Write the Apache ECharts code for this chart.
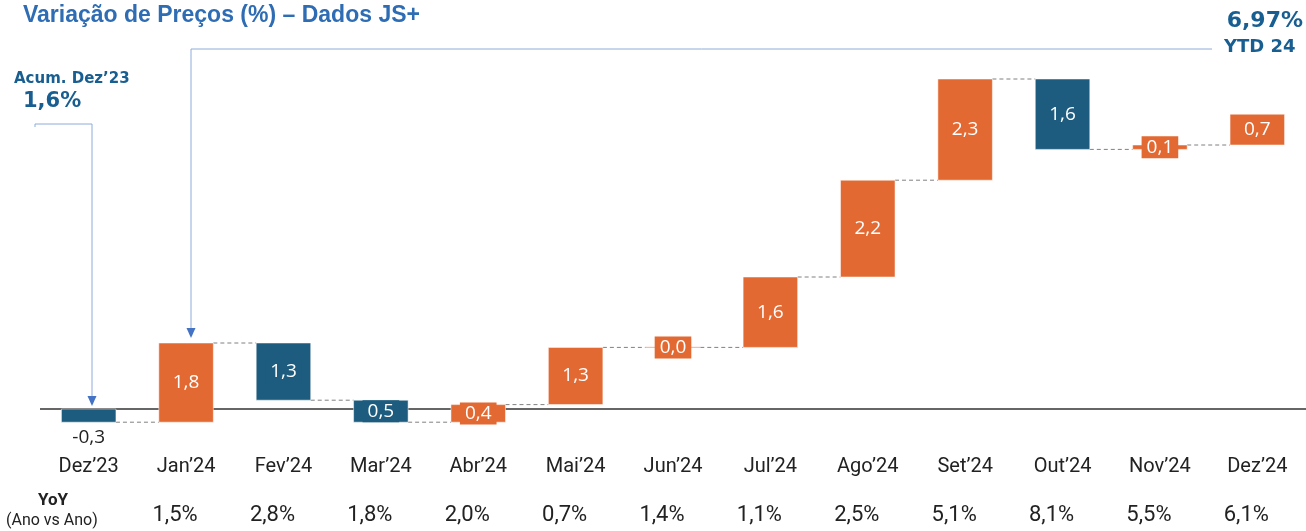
<!DOCTYPE html>
<html>
<head>
<meta charset="utf-8">
<script src="https://cdn.jsdelivr.net/npm/echarts@6/dist/echarts.min.js"></script>
<style>
  html, body { margin: 0; padding: 0; background: #fff; }
  #chart { width: 1306px; height: 531px; }
</style>
</head>
<body>
<div id="chart"></div>
<script>
// waterfall data
const months = ['Dez\u201923', 'Jan\u201924', 'Fev\u201924', 'Mar\u201924', 'Abr\u201924', 'Mai\u201924', 'Jun\u201924',
                'Jul\u201924', 'Ago\u201924', 'Set\u201924', 'Out\u201924', 'Nov\u201924', 'Dez\u201924'];
const changes = [-0.3, 1.8, -1.3, -0.5, 0.4, 1.3, 0.0, 1.6, 2.2, 2.3, -1.6, 0.1, 0.7];
const yoy = ['', '1,5%', '2,8%', '1,8%', '2,0%', '0,7%', '1,4%', '1,1%', '2,5%', '5,1%', '8,1%', '5,5%', '6,1%'];

const orange = '#E36933';
const blue = '#1D5C7E';

// running levels for the waterfall
let starts = [];
let ends = [];
let level = 0;
for (let i = 0; i < changes.length; i++) {
    starts.push(level);
    level = level + changes[i];
    ends.push(level);
}

const fmt = (v) => v.toFixed(1).replace('.', ',');

function renderBar(params, api) {
    let i = params.dataIndex;
    let s = api.value(1);
    let e = api.value(2);
    let delta = changes[i];
    let color = (delta < 0) ? blue : orange;
    let w = api.size([1, 0])[0] * 0.56;
    let p1 = api.coord([i, s]);
    let p2 = api.coord([i, e]);
    let top = Math.min(p1[1], p2[1]);
    let h = Math.abs(p1[1] - p2[1]);
    let children = [];

    // connector to the next bar
    if (i < changes.length - 1) {
        let n = api.coord([i + 1, e]);
        children.push({
            type: 'line',
            shape: { x1: p1[0] + w / 2, y1: p2[1], x2: n[0] - w / 2, y2: p2[1] },
            style: { stroke: '#808080', lineWidth: 1, lineDash: [4, 3] }
        });
    }
    children.push({
        type: 'rect',
        shape: { x: p1[0] - w / 2, y: top, width: w, height: h },
        style: { fill: color, stroke: (h < 2 ? '#F5BBA2' : 'rgba(255,255,255,0.5)'), lineWidth: 1 }
    });
    if (i === 0) {
        children.push({
            type: 'text',
            x: p1[0], y: top + h + 6,
            style: { text: fmt(delta), fill: '#222', fontSize: 19, fontFamily: 'Open Sans',
                     align: 'center', verticalAlign: 'top' }
        });
    } else {
        children.push({
            type: 'text',
            x: p1[0], y: top + h / 2,
            style: { text: fmt(Math.abs(delta)), fill: '#fff', fontSize: 19, fontFamily: 'Open Sans',
                     align: 'center', verticalAlign: 'middle',
                     backgroundColor: color, padding: [2, 5, 1, 5] }
        });
    }
    return { type: 'group', children: children };
}

function renderZero(params, api) {
    let cs = params.coordSys;
    let y = api.coord([0, 0])[1];
    return {
        type: 'line',
        shape: { x1: cs.x, y1: y, x2: cs.x + cs.width, y2: y },
        style: { stroke: '#333', lineWidth: 1.5 }
    };
}

let dom = document.getElementById('chart');
let myChart = echarts.init(dom, null, { renderer: 'canvas' });

const lineColor = '#8EAADB';
const arrowColor = '#4472C4';
const noteColor = '#185E91';

let option = {
    animation: false,
    backgroundColor: '#fff',
    grid: { left: 40, width: 1268, top: 57, height: 396 },
    xAxis: [
        {
            type: 'category',
            data: months,
            axisLine: { show: false },
            axisTick: { show: false },
            axisLabel: { fontSize: 20, color: '#222', fontFamily: 'Roboto', margin: 4 }
        },
        {
            type: 'category',
            data: months,
            position: 'bottom',
            offset: 43,
            axisLine: { show: false },
            axisTick: { show: false },
            axisLabel: { fontSize: 22, color: '#222', fontFamily: 'Roboto', padding: [0, 22, 0, 0],
                         formatter: (v, idx) => yoy[idx] }
        }
    ],
    yAxis: { type: 'value', min: -1, max: 8, show: false },
    graphic: [
        { type: 'text', left: 23, top: 4,
          style: { text: 'Varia\u00e7\u00e3o de Pre\u00e7os (%) \u2013 Dados JS+', fill: '#2E6CB4',
                   fontSize: 23, fontWeight: 'bold', fontFamily: 'Liberation Sans' } },
        { type: 'text', left: 14, top: 72,
          style: { text: 'Acum. Dez\u201923', fill: noteColor, fontSize: 15, fontWeight: 'bold', fontFamily: 'DejaVu Sans' } },
        { type: 'text', left: 23, top: 91,
          style: { text: '1,6%', fill: noteColor, fontSize: 21, fontWeight: 'bold', fontFamily: 'DejaVu Sans' } },
        { type: 'text', right: 3, top: 10,
          style: { text: '6,97%', fill: noteColor, fontSize: 22, fontWeight: 'bold', fontFamily: 'DejaVu Sans' } },
        { type: 'text', left: 1224, top: 38,
          style: { text: 'YTD 24', fill: noteColor, fontSize: 18, fontWeight: 'bold', fontFamily: 'DejaVu Sans' } },
        { type: 'polyline', shape: { points: [[35, 127], [35, 124], [92, 124], [92, 398]] },
          style: { stroke: lineColor, lineWidth: 1, fill: null } },
        { type: 'polygon', shape: { points: [[87.5, 396], [96.5, 396], [92, 406]] }, style: { fill: arrowColor } },
        { type: 'polyline', shape: { points: [[1212, 49], [191, 49], [191, 329]] },
          style: { stroke: lineColor, lineWidth: 1, fill: null } },
        { type: 'polygon', shape: { points: [[186.5, 328], [195.5, 328], [191, 338]] }, style: { fill: arrowColor } },
        { type: 'text', left: 38, top: 492,
          style: { text: 'YoY', fill: '#222', fontSize: 17, fontWeight: 'bold', fontFamily: 'Roboto' } },
        { type: 'text', left: 6, top: 513,
          style: { text: '(Ano vs Ano)', fill: '#222', fontSize: 16, fontFamily: 'Roboto' } }
    ],
    series: [
        {
            // zero line, kept behind the bars
            type: 'custom',
            z: 1,
            silent: true,
            renderItem: renderZero,
            data: [[0, 0]]
        },
        {
            type: 'custom',
            z: 2,
            renderItem: renderBar,
            encode: { x: 0, y: [1, 2] },
            data: months.map((m, i) => [i, starts[i], ends[i]])
        }
    ]
};

if (option && typeof option === 'object') {
    myChart.setOption(option);
}
window.addEventListener('resize', myChart.resize);
</script>
</body>
</html>
